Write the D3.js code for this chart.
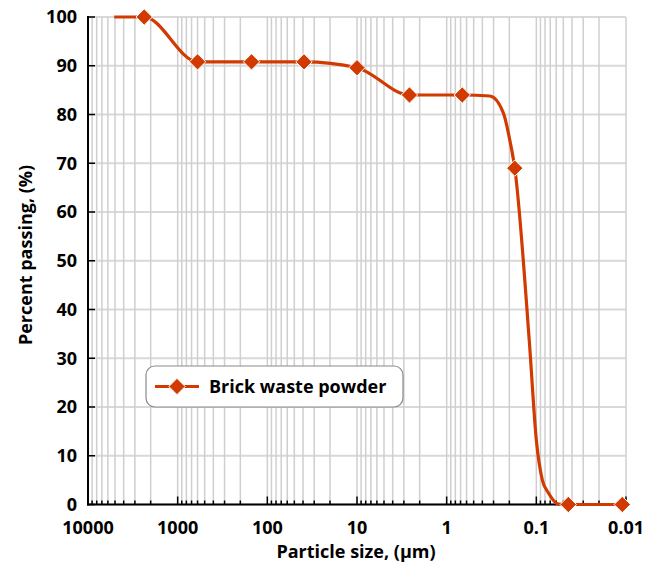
<!DOCTYPE html>
<html>
<head>
<meta charset="utf-8">
<script src="https://cdn.jsdelivr.net/npm/d3@7"></script>
<style>
  html, body { margin: 0; padding: 0; background: #fff; }
  svg text { font-family: "Open Sans", "DejaVu Sans", sans-serif; }
</style>
</head>
<body>
<svg id="chart" width="658" height="565"></svg>
<script>
// Measured gradation points (marked on the chart)
const sizes   = [2360, 600, 150, 39, 10, 2.6, 0.67, 0.174, 0.044, 0.011];
const passing = [100, 90.8, 90.8, 90.8, 89.6, 84.0, 84.0, 69.0, 0, 0];

// Traced gradation curve through the measured points
const curveSizes   = [5100, 2360, 600, 150, 39, 10, 2.6, 0.67, 0.33, 0.233, 0.195, 0.174, 0.12, 0.1, 0.0857, 0.0735, 0.0569, 0.044, 0.011];
const curvePassing = [100, 100, 90.8, 90.8, 90.8, 89.6, 84.0, 84.0, 83.8, 80.3, 74.2, 69.0, 33.7, 13.2, 5.0, 2.4, 0.1, 0, 0];

// Axis ticks
const xMajorTicks = [10000, 1000, 100, 10, 1, 0.1, 0.01];
const xTickLabels = ["10000", "1000", "100", "10", "1", "0.1", "0.01"];
const yTicks = [0, 10, 20, 30, 40, 50, 60, 70, 80, 90, 100];

const seriesName = "Brick waste powder";
const lineColor = "#d13a00";
const fontSize = 18;

const svg = d3.select("#chart");
const plotLeft = 88, plotRight = 626, plotTop = 17, plotBottom = 504.5;

const x = d3.scaleLog().domain([10000, 0.01]).range([plotLeft, plotRight]);
const y = d3.scaleLinear().domain([0, 100]).range([plotBottom, plotTop]);

// Minor values 2..9 within each decade
const xMinor = [];
for (let e = -2; e <= 3; e++) {
  for (let m = 2; m <= 9; m++) xMinor.push(m * Math.pow(10, e));
}

const grid = svg.append("g");
// horizontal grid
grid.selectAll("line.h").data(yTicks).join("line")
  .attr("x1", plotLeft).attr("x2", plotRight)
  .attr("y1", d => y(d)).attr("y2", d => y(d))
  .attr("stroke", "#d9d9d9").attr("stroke-width", 2);
// vertical grid
grid.selectAll("line.v").data(xMinor.concat(xMajorTicks)).join("line")
  .attr("x1", d => x(d)).attr("x2", d => x(d))
  .attr("y1", plotTop).attr("y2", plotBottom)
  .attr("stroke", "#cfcfcf").attr("stroke-width", 1.5);

// Bottom axis with major and minor ticks pointing inward
const xAxisG = svg.append("g").attr("transform", `translate(0,${plotBottom})`);
xAxisG.append("line").attr("x1", plotLeft - 1).attr("x2", plotRight).attr("stroke", "#000").attr("stroke-width", 2);
xAxisG.selectAll("line.minor").data(xMinor).join("line")
  .attr("x1", d => x(d)).attr("x2", d => x(d))
  .attr("y1", 0).attr("y2", -4).attr("stroke", "#000").attr("stroke-width", 1.5);
xAxisG.selectAll("line.major").data(xMajorTicks).join("line")
  .attr("x1", d => x(d)).attr("x2", d => x(d))
  .attr("y1", 0).attr("y2", -8).attr("stroke", "#000").attr("stroke-width", 1.5);
xAxisG.selectAll("text").data(xMajorTicks).join("text")
  .attr("x", d => x(d)).attr("y", 29)
  .attr("text-anchor", "middle")
  .attr("font-size", fontSize).attr("font-weight", "bold")
  .text((d, i) => xTickLabels[i]);

// Left axis with inward ticks
const yAxisG = svg.append("g").attr("transform", `translate(${plotLeft},0)`);
yAxisG.append("line").attr("y1", plotTop - 1).attr("y2", plotBottom + 1).attr("stroke", "#000").attr("stroke-width", 2);
yAxisG.selectAll("line.t").data(yTicks).join("line")
  .attr("x1", 0).attr("x2", 7)
  .attr("y1", d => y(d)).attr("y2", d => y(d))
  .attr("stroke", "#000").attr("stroke-width", 1.5);
yAxisG.selectAll("text").data(yTicks).join("text")
  .attr("x", -11).attr("y", d => y(d)).attr("dy", "0.35em")
  .attr("text-anchor", "end")
  .attr("font-size", fontSize).attr("font-weight", "bold")
  .text(d => d);

// Axis titles
svg.append("text")
  .attr("x", 356).attr("y", 558)
  .attr("text-anchor", "middle")
  .attr("font-size", fontSize).attr("font-weight", "bold")
  .text("Particle size, (µm)");
svg.append("text")
  .attr("transform", "translate(32,255) rotate(-90)")
  .attr("text-anchor", "middle")
  .attr("font-size", fontSize).attr("font-weight", "bold")
  .text("Percent passing, (%)");

// Gradation curve
const curveData = curveSizes.map((s, i) => [s, curvePassing[i]]);
const line = d3.line()
  .x(d => x(d[0])).y(d => y(d[1]))
  .curve(d3.curveMonotoneX);
svg.append("path")
  .datum(curveData)
  .attr("d", line)
  .attr("fill", "none")
  .attr("stroke", lineColor)
  .attr("stroke-width", 3.2)
  .attr("stroke-linejoin", "round");

// Diamond markers
const diamond = d3.symbol().type(d3.symbolDiamond2).size(170);
svg.append("g").selectAll("path").data(sizes.map((s, i) => [s, passing[i]])).join("path")
  .attr("transform", d => `translate(${x(d[0])},${y(d[1])})`)
  .attr("d", diamond)
  .attr("fill", lineColor)
  .attr("stroke", "#fff").attr("stroke-width", 1);

// Legend
const lg = svg.append("g").attr("transform", "translate(146,366)");
lg.append("rect")
  .attr("width", 257).attr("height", 41).attr("rx", 9)
  .attr("fill", "#fff").attr("stroke", "#8a8a8a").attr("stroke-width", 1.2);
lg.append("line").attr("x1", 9).attr("x2", 53).attr("y1", 20.5).attr("y2", 20.5)
  .attr("stroke", lineColor).attr("stroke-width", 3);
lg.append("path").attr("transform", "translate(31,20.5)")
  .attr("d", diamond).attr("fill", lineColor).attr("stroke", "#fff").attr("stroke-width", 1);
lg.append("text").attr("x", 63).attr("y", 20.5).attr("dy", "0.35em")
  .attr("font-size", fontSize).attr("font-weight", "bold")
  .text(seriesName);
</script>
</body>
</html>
